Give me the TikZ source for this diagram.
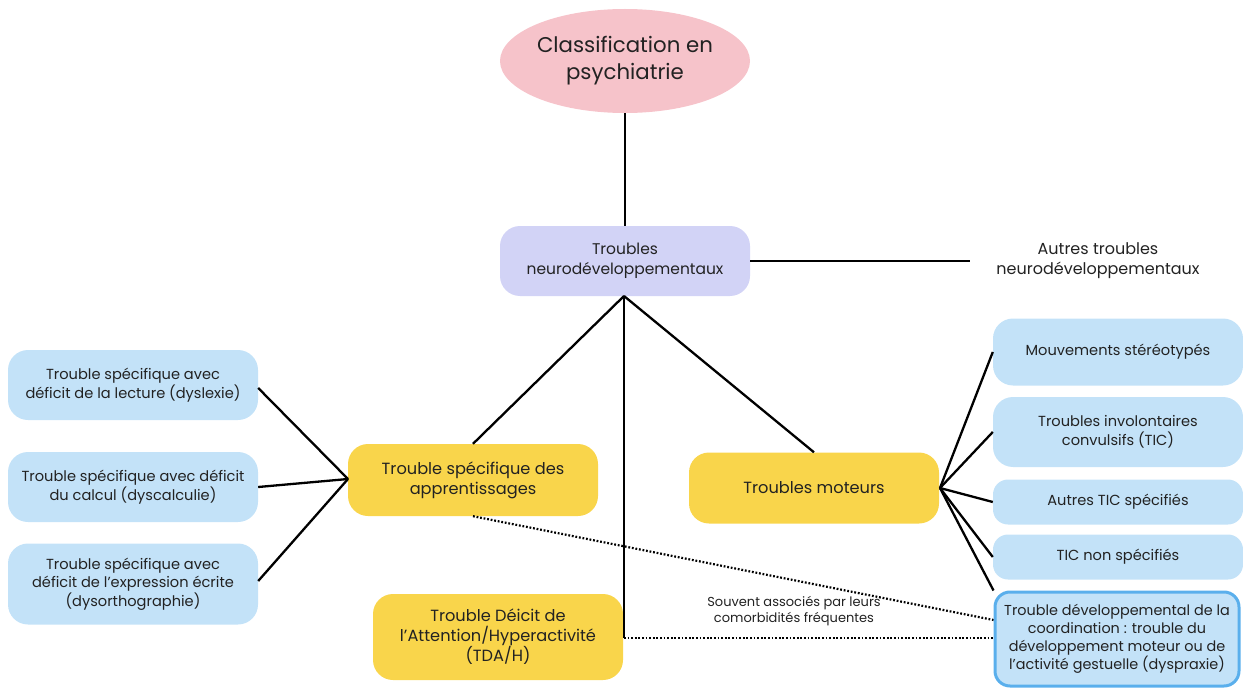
\documentclass[tikz,border=0pt]{standalone}
\usepackage{fontspec}
\setmainfont{Poppins}
\usetikzlibrary{shapes.geometric}
\definecolor{pinkf}{HTML}{F6C3CA}
\definecolor{lavf}{HTML}{D2D3F6}
\definecolor{bluef}{HTML}{C3E2F8}
\definecolor{yelf}{HTML}{F9D54B}
\definecolor{blueb}{HTML}{5AAFEC}
\definecolor{txt}{HTML}{222222}
\tikzset{
  box/.style={rounded corners=20pt, minimum width=250pt, align=center, text=txt, inner sep=2pt},
  bluebox/.style={box, fill=bluef, font=\fontsize{14.6}{18.5}\selectfont},
  yelbox/.style={box, fill=yelf, font=\fontsize{16.2}{20}\selectfont},
  conn/.style={line width=2.3pt, black},
  dots/.style={line width=2.2pt, dash pattern=on 1.8pt off 1.8pt, black},
}
\begin{document}
\begin{tikzpicture}[x=1pt,y=-1pt]
\useasboundingbox (0,0) rectangle (1243,690);
\node[ellipse, fill=pinkf, minimum width=250pt, minimum height=104pt, inner sep=0pt, align=center, text=txt, font=\fontsize{21.3}{27}\selectfont] (root) at (625,61) {Classification en\\psychiatrie};
\node[box, fill=lavf, minimum height=70pt, font=\fontsize{15.5}{20}\selectfont] (neuro) at (625,261) {Troubles\\neurodéveloppementaux};
\coordinate (autreL) at (970,261);
\node[align=center, text=txt, font=\fontsize{16}{20}\selectfont] (autre) at (1098,261) {Autres troubles\\neurodéveloppementaux};

\node[bluebox, minimum height=70pt] (lec) at (133,385) {Trouble spécifique avec\\déficit de la lecture (dyslexie)};
\node[bluebox, minimum height=70pt] (calc) at (133,487) {Trouble spécifique avec déficit\\du calcul (dyscalculie)};
\node[bluebox, minimum height=81pt] (ecr) at (133,584) {Trouble spécifique avec\\déficit de l’expression écrite\\(dysorthographie)};

\node[yelbox, minimum height=72pt] (app) at (473,480) {Trouble spécifique des\\apprentissages};
\node[yelbox, minimum height=86pt] (tda) at (498,637) {Trouble Déicit de\\l’Attention/Hyperactivité\\(TDA/H)};
\node[yelbox, minimum height=71pt] (mot) at (814,488) {Troubles moteurs};

\node[bluebox, minimum height=67pt] (mouv) at (1118,352) {Mouvements stéréotypés};
\node[bluebox, minimum height=70pt] (invol) at (1118,432) {Troubles involontaires\\convulsifs (TIC)};
\node[bluebox, minimum height=45pt, rounded corners=15pt] (autic) at (1118,502) {Autres TIC spécifiés};
\node[bluebox, minimum height=45pt, rounded corners=15pt] (ticnon) at (1118,557) {TIC non spécifiés};
\node[bluebox, minimum height=94pt, minimum width=244pt, draw=blueb, line width=3pt, rounded corners=15pt, font=\fontsize{14.4}{18.2}\selectfont] (dev) at (1117,639) {Trouble développemental de la\\coordination : trouble du\\développement moteur ou de\\l’activité gestuelle (dyspraxie)};

\node[align=center, text=txt, font=\fontsize{13}{16}\selectfont] (note) at (794,611) {Souvent associés par leurs\\comorbidités fréquentes};

\coordinate (hub) at (624,296);
\coordinate (appL) at (348,479);
\coordinate (corner) at (624,638);

\draw[conn] (root.south) -- (neuro.north);
\draw[conn] (neuro.east) -- (autreL);
\draw[conn] (hub) -- (app.north);
\draw[conn] (hub) -- (mot.north);
\draw[conn] (hub) -- (corner);
\draw[conn] (lec.east) ++(0,3) -- (appL);
\draw[conn] (calc.east) -- (appL);
\draw[conn] (ecr.east) ++(0,-3) -- (appL);
\coordinate (motR) at (940,488);
\draw[conn] (motR) -- (mouv.west);
\draw[conn] (motR) -- (invol.west);
\draw[conn] (motR) -- (autic.west);
\draw[conn] (motR) -- (ticnon.west);
\draw[conn] (motR) -- (dev.north west);
\draw[dots] (corner) -- (dev.west |- corner);
\draw[dots] (app.south) -- (dev.west |- 0,620);
\end{tikzpicture}
\end{document}
